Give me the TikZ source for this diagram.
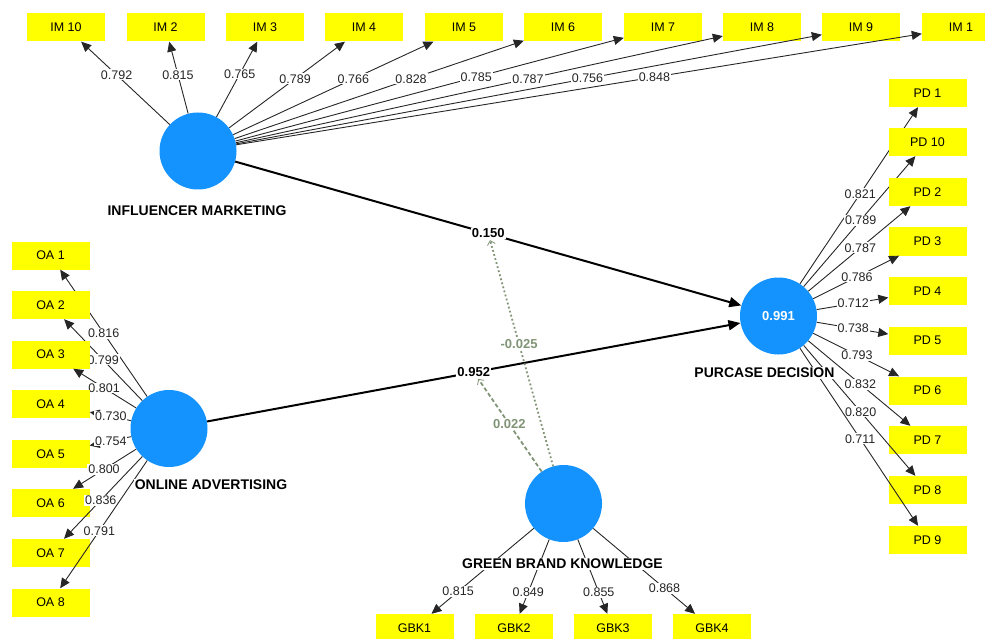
\documentclass[tikz,border=0pt]{standalone}
\usepackage{fontspec}
\setmainfont{Liberation Sans}
\usetikzlibrary{arrows.meta,positioning,calc}
\definecolor{lvblue}{RGB}{20,147,254}
\definecolor{indyellow}{RGB}{255,255,0}
\definecolor{modgreen}{RGB}{128,148,118}
\tikzset{
    lv/.style={circle,fill=lvblue,inner sep=0pt,minimum size=77pt},
    ind/.style={rectangle,fill=indyellow,inner sep=0pt,minimum width=78pt,minimum height=28pt,font=\fontsize{12.5}{14}\selectfont},
    lvname/.style={fill=white,inner sep=1pt,font=\fontsize{14}{16}\selectfont\bfseries},
    load/.style={fill=white,inner sep=1pt,font=\fontsize{12.5}{14}\selectfont},
    loadline/.style={color=black!85,line width=0.9pt},
    structline/.style={color=black,line width=2pt,-{Triangle[length=12pt,width=10pt]}},
    coef/.style={fill=white,inner sep=1pt,font=\fontsize{13}{15}\selectfont\bfseries},
    modline/.style={color=modgreen,line width=1.8pt,-{Straight Barb[length=4pt,width=8pt,line width=0.8pt]}},
    modcoef/.style={fill=white,inner sep=1pt,text=modgreen,font=\fontsize{13}{15}\selectfont\bfseries}
}
\begin{document}
\begin{tikzpicture}[x=1pt,y=-1pt,>={Triangle[length=10pt,width=9pt]}]
    \useasboundingbox (0,0) rectangle (985,639);
    %Latent variables%
    %===========================================================
    \node[lv] (IM) at (198,151) {};
    \node[lv] (OA) at (169,428.5) {};
    \node[lv,text=white,font=\fontsize{13}{15}\selectfont\bfseries] (PD) at (778.5,316) {0.991};
    \node[lv] (GBK) at (563.5,503.5) {};
    %Influencer marketing indicators%
    %===========================================================
    \foreach \n/\x/\p/\v in {10/66/0.60/0.792, 2/165.5/0.54/0.815, 3/265/0.57/0.765, 4/364/0.57/0.789, 5/464/0.60/0.766,
                             6/563/0.61/0.828, 7/663/0.62/0.785, 8/762/0.60/0.787, 9/861/0.60/0.756, 1/961/0.61/0.848}{
        \node[ind] (im\n) at (\x,27.5) {IM \n};
        \draw[->,loadline] (IM) -- (im\n) node[load,pos=\p] {\v};
    }
    %Online advertising indicators%
    %===========================================================
    \foreach \n/\y/\p/\v in {1/255.5/0.50/0.816, 2/305/0.50/0.799, 3/354.5/0.51/0.801, 4/404/0.49/0.730,
                             5/454/0.49/0.754, 6/503/0.51/0.800, 7/553/0.53/0.836, 8/602.5/0.55/0.791}{
        \node[ind] (oa\n) at (50.5,\y) {OA \n};
        \draw[->,loadline] (OA) -- (oa\n) node[load,pos=\p] {\v};
    }
    %Purchase decision indicators%
    %===========================================================
    \foreach \n/\y/\v in {1/93/0.821, 10/142/0.789, 2/192/0.787, 3/241.5/0.786, 4/291/0.712,
                          5/340.5/0.738, 6/390.5/0.793, 7/440/0.832, 8/490/0.820, 9/540/0.711}{
        \node[ind] (pd\n) at (927.5,\y) {PD \n};
        \draw[->,loadline] (PD) -- (pd\n) node[load,pos=0.51] {\v};
    }
    %Green brand knowledge indicators%
    %===========================================================
    \foreach \n/\x/\p/\v in {1/414.5/0.74/0.815, 2/514/0.71/0.849, 3/613/0.71/0.855, 4/712/0.70/0.868}{
        \node[ind] (gbk\n) at (\x,628) {GBK\n};
        \draw[->,loadline] (GBK) -- (gbk\n) node[load,pos=\p] {\v};
    }
    %Inner model paths%
    %===========================================================
    \draw[structline] (IM) -- (PD) node[coef,pos=0.5] (c150) {0.150};
    \draw[structline] (OA) -- (PD) node[coef,pos=0.5] (c952) {0.952};
    %Moderating effects
    \draw[modline,dash pattern=on 1.8pt off 2.4pt] (GBK) -- (c150) node[modcoef,pos=0.54] {-0.025};
    \draw[modline,dash pattern=on 4pt off 2.5pt] (GBK) -- (c952) node[modcoef,pos=0.51] {0.022};
    %Construct names%
    %===========================================================
    \node[lvname] (imname) at (197,211) {INFLUENCER MARKETING};
    \node[lvname] (oaname) at (211,485) {ONLINE ADVERTISING};
    \node[lvname] (pdname) at (764.5,373) {PURCASE DECISION};
    \node[lvname] (gbkname) at (562.5,564) {GREEN BRAND KNOWLEDGE};
\end{tikzpicture}
\end{document}
